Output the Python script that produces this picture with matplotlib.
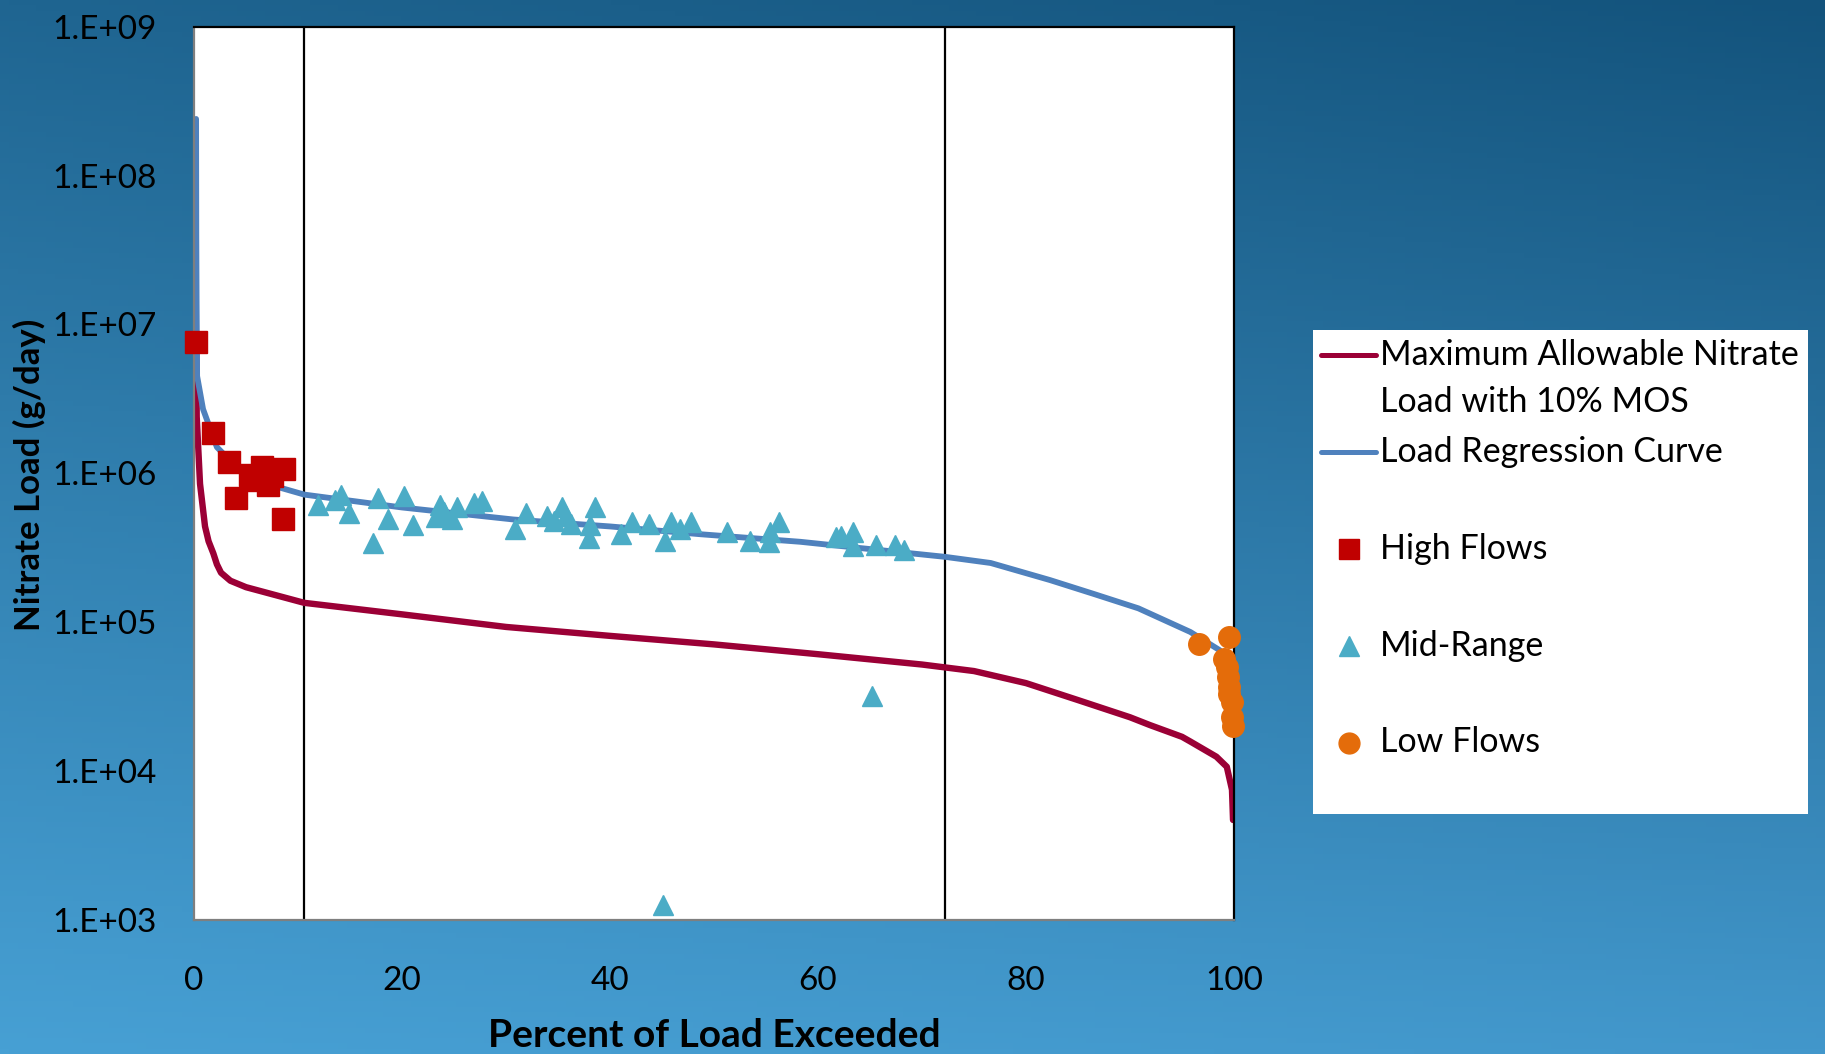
import numpy as np
import matplotlib
matplotlib.use("Agg")
from matplotlib import pyplot as plt
from matplotlib.colors import to_rgb

plt.rcParams['font.family'] = ['Lato', 'DejaVu Sans']

# load duration curves
x_allow = [0.2, 0.22, 0.26, 0.58, 1.06, 1.4, 1.86, 2.2, 2.6, 3.5, 5, 10.6, 20, 30, 40, 50, 60, 70,
           75, 80, 85, 90, 91.9, 95, 95.8, 98.3, 99.3, 99.8, 99.9]
y_allow = [8e6, 6.8e6, 2.4e6, 8.5e5, 4.4e5, 3.5e5, 2.9e5, 2.45e5, 2.15e5, 1.9e5, 1.72e5, 1.35e5,
           1.13e5, 9.3e4, 8.1e4, 7.1e4, 6.1e4, 5.2e4, 4.7e4, 3.9e4, 3.0e4, 2.3e4, 2.04e4, 1.7e4,
           1.58e4, 1.25e4, 1.07e4, 7.5e3, 4.7e3]

x_reg = [0.2, 0.22, 0.25, 0.3, 0.87, 2.2, 4.1, 7.0, 10.6, 20, 30.7, 40, 48.7, 58.3, 65, 72.2, 76.6,
         82.3, 86.5, 90.8, 95.8, 98.6, 99.6]
y_reg = [2.4e8, 4e7, 1.4e7, 4.5e6, 2.7e6, 1.5e6, 1.1e6, 8.5e5, 7.2e5, 5.9e5, 4.9e5, 4.4e5, 3.9e5,
         3.47e5, 3.1e5, 2.75e5, 2.5e5, 1.92e5, 1.55e5, 1.24e5, 8.6e4, 6.5e4, 5.5e4]

# observed loads
x_high = [0.19, 1.86, 3.4, 4.04, 5.38, 5.9, 6.5, 7.15, 7.5, 8.65, 8.6]
y_high = [7.66e6, 1.86e6, 1.19e6, 6.8e5, 9.7e5, 9.0e5, 1.11e6, 8.3e5, 9.6e5, 1.07e6, 4.9e5]

x_mid = [11.9, 13.6, 14.1, 14.9, 17.2, 17.7, 18.7, 20.2, 21.1, 23.3, 23.7, 24.0, 24.8, 25.3, 26.9,
         27.7, 30.9, 31.9, 33.9, 34.6, 35.4, 35.8, 36.2, 38.0, 38.1, 38.6, 41.1, 42.1, 43.7, 45.1,
         45.3, 45.9, 46.7, 47.8, 51.2, 53.5, 55.3, 55.4, 56.2, 61.7, 62.2, 63.4, 63.4, 65.2, 65.6,
         67.4, 68.3]
y_mid = [6.1e5, 6.6e5, 7.2e5, 5.4e5, 3.4e5, 6.8e5, 4.9e5, 7.0e5, 4.5e5, 5.1e5, 6.1e5, 5.5e5, 4.9e5,
         5.9e5, 6.3e5, 6.5e5, 4.2e5, 5.4e5, 5.2e5, 4.8e5, 5.9e5, 5.2e5, 4.6e5, 3.7e5, 4.5e5, 5.9e5,
         3.9e5, 4.7e5, 4.6e5, 1.26e3, 3.5e5, 4.7e5, 4.2e5, 4.7e5, 4.05e5, 3.5e5, 3.47e5, 4.06e5,
         4.7e5, 3.76e5, 3.8e5, 4.06e5, 3.25e5, 3.2e4, 3.3e5, 3.3e5, 3.06e5]

x_low = [96.6, 99.5, 99.0, 99.3, 99.4, 99.5, 99.5, 99.8, 99.8, 99.9]
y_low = [7.1e4, 7.9e4, 5.7e4, 5.0e4, 4.3e4, 3.7e4, 3.3e4, 2.9e4, 2.3e4, 2.0e4]

zone_bounds = [10.6, 72.2]
x_ticks = [0, 20, 40, 60, 80, 100]
y_ticks = [1e3, 1e4, 1e5, 1e6, 1e7, 1e8, 1e9]
y_ticklabels = ["1.E+03", "1.E+04", "1.E+05", "1.E+06", "1.E+07", "1.E+08", "1.E+09"]

c_allow = "#9b0036"
c_reg = "#4f81bd"
c_high = "#c00000"
c_mid = "#4bacc6"
c_low = "#e46c0a"

fig = plt.figure(figsize=(18.25, 10.54), dpi=100)

# blue gradient background
bg = fig.add_axes([0, 0, 1, 1], zorder=-5)
ny, nx = 200, 200
ty = np.linspace(0, 1, ny)[:, None, None]
tx = np.linspace(0, 1, nx)[None, :, None]
top = (1 - tx) * np.array(to_rgb("#1f6591")) + tx * np.array(to_rgb("#13537c"))
bot = (1 - tx) * np.array(to_rgb("#47a0d4")) + tx * np.array(to_rgb("#4297cb"))
grad = (1 - ty) * top + ty * bot
bg.imshow(grad, aspect="auto", extent=[0, 1, 0, 1], origin="upper")
bg.axis("off")

ax = fig.add_axes([0.1063, 0.1271, 0.5699, 0.8476])
ax.set_facecolor("white")
ax.set_yscale("log")
ax.set_xlim(0, 100)
ax.set_ylim(1e3, 1e9)

for xb in zone_bounds:
    ax.axvline(xb, color="black", lw=1.6, zorder=1)

ax.plot(x_allow, y_allow, color=c_allow, lw=4.6, solid_capstyle="round", zorder=2)
ax.plot(x_reg, y_reg, color=c_reg, lw=4.2, solid_capstyle="round", zorder=2)

ax.plot(x_high, y_high, "s", color=c_high, ms=15.5, mec=c_high, clip_on=False, zorder=3)
ax.plot(x_mid, y_mid, "^", color=c_mid, ms=15, mec=c_mid, clip_on=False, zorder=3)
ax.plot(x_low, y_low, "o", color=c_low, ms=15.5, mec=c_low, clip_on=False, zorder=3)

ax.set_xticks(x_ticks)
ax.set_xticklabels([str(t) for t in x_ticks])
ax.set_yticks(y_ticks)
ax.set_yticklabels(y_ticklabels)
ax.yaxis.set_minor_locator(matplotlib.ticker.NullLocator())
ax.tick_params(axis="both", length=0, labelsize=24, colors="black")
ax.tick_params(axis="x", pad=33)
ax.tick_params(axis="y", pad=27)

for side in ["top", "right"]:
    ax.spines[side].set_color("black")
    ax.spines[side].set_linewidth(1.6)
for side in ["left", "bottom"]:
    ax.spines[side].set_color("#7f7f7f")
    ax.spines[side].set_linewidth(1.6)

ax.set_xlabel("Percent of Load Exceeded", fontsize=28, fontweight="bold")
ax.xaxis.set_label_coords(0.5, -0.142)
ax.xaxis.label.set_va("baseline")
ax.set_ylabel("Nitrate Load (g/day)", fontsize=25, fontweight="bold")
ax.yaxis.set_label_coords(-0.1587, 0.498)
ax.yaxis.label.set_va("center")

# legend box drawn by hand to keep Excel's uneven spacing
W, H = 1825.0, 1054.0
lx0, lx1, ly0, ly1 = 1313, 1808, 330, 814
lg = fig.add_axes([lx0 / W, 1 - ly1 / H, (lx1 - lx0) / W, (ly1 - ly0) / H])
lg.set_facecolor("white")
lg.set_xticks([])
lg.set_yticks([])
for s in lg.spines.values():
    s.set_visible(False)
lg.set_xlim(lx0, lx1)
lg.set_ylim(ly1, ly0)

lg.plot([1321, 1376], [355, 355], color=c_allow, lw=3.6, solid_capstyle="round")
lg.plot([1321, 1376], [452, 452], color=c_reg, lw=3.6, solid_capstyle="round")
lg.plot([1348.5], [549], "s", color=c_high, ms=15)
lg.plot([1348.5], [646], "^", color=c_mid, ms=14)
lg.plot([1348.5], [742.5], "o", color=c_low, ms=15)

leg_text = [("Maximum Allowable Nitrate", 365), ("Load with 10% MOS", 412),
            ("Load Regression Curve", 462), ("High Flows", 559),
            ("Mid-Range", 656), ("Low Flows", 752)]
for txt, yb in leg_text:
    lg.text(1380, yb, txt, fontsize=24.5, va="baseline", ha="left", color="black")

fig.savefig("out.png", dpi=100)
